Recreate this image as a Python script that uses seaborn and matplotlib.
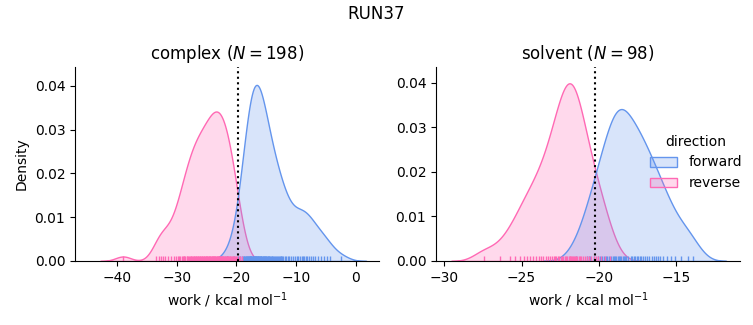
import numpy as np
import pandas as pd
import seaborn as sns
import matplotlib
matplotlib.use("Agg")
import matplotlib.pyplot as plt

run_name = "RUN37"
phases = ["complex", "solvent"]
n_labels = {"complex": 198, "solvent": 98}
bar_estimates = {"complex": -19.66, "solvent": -20.23}

complex_forward = [
    -21.5, -20.4, -19.8, -19.4, -19.1, -18.95, -18.8, -18.65, -18.55, -18.45,
    -18.35, -18.25, -18.15, -18.05, -18.0, -17.95, -17.88, -17.8, -17.72, -17.65,
    -17.58, -17.52, -17.47, -17.35, -17.28, -17.22, -17.15, -17.08, -17.02, -16.96,
    -16.9, -16.83, -16.77, -16.7, -16.63, -16.57, -16.51, -16.45, -16.38, -16.31,
    -16.24, -16.17, -16.1, -16.03, -15.95, -15.87, -15.79, -15.7, -15.62, -15.54,
    -15.45, -15.36, -15.27, -15.18, -15.09, -14.95, -14.85, -14.75, -14.65, -14.55,
    -14.45, -14.33, -14.2, -14.08, -13.95, -13.8, -13.65, -13.5, -13.35, -13.2,
    -13.05, -12.9, -12.7, -12.6, -12.5, -12.3, -12.1, -11.9, -11.65, -11.4,
    -11.15, -10.85, -10.5, -10.15, -9.9, -9.6, -9.3, -9.05, -8.85, -8.6,
    -8.35, -8.1, -7.85, -7.5, -7.15, -6.8, -6.3, -5.8, -5.3, -4.8,
    -4.3, -2.4,
]

complex_reverse = [
    -39.0,
    -33.4, -33.0, -32.7, -32.3, -31.9, -31.4, -30.9, -30.4,
    -30.1, -29.85, -29.6, -29.4, -29.2, -29.0,
    -28.85, -28.7, -28.55, -28.35, -28.2, -28.05,
    -27.93, -27.8, -27.68, -27.55, -27.42, -27.3, -27.17, -27.04,
    -26.94, -26.83, -26.72, -26.61, -26.5, -26.39, -26.28, -26.17, -26.05,
    -25.92, -25.81, -25.7, -25.59, -25.48, -25.37, -25.26, -25.15, -25.04,
    -24.95, -24.85, -24.75, -24.65, -24.55, -24.45, -24.35, -24.25, -24.15, -24.05,
    -23.96, -23.87, -23.78, -23.69, -23.6, -23.51, -23.42, -23.33, -23.24, -23.15, -23.06,
    -22.97, -22.88, -22.79, -22.7, -22.61, -22.52, -22.43, -22.34, -22.25, -22.16, -22.05,
    -21.95, -21.85, -21.75, -21.65, -21.55, -21.45, -21.35, -21.25, -21.15, -21.05,
    -20.93, -20.8, -20.65, -20.5, -20.35, -20.2, -20.05,
    -19.85, -19.6, -19.35, -19.1,
]

solvent_forward = [
    -21.5,
    -20.8, -20.65, -20.55, -20.3, -20.08,
    -19.92, -19.8, -19.68, -19.56, -19.45, -19.34, -19.23, -19.12, -19.02,
    -18.95, -18.87, -18.79, -18.71, -18.63, -18.55, -18.47, -18.39, -18.31, -18.23, -18.14,
    -17.95, -17.85, -17.75, -17.65, -17.55, -17.45, -17.35, -17.25, -17.14, -17.03,
    -16.9, -16.75, -16.6, -16.45, -16.3, -16.15, -16.02,
    -15.85, -15.6, -15.35, -15.1,
    -14.7, -14.25,
    -13.9,
]

solvent_reverse = [
    -27.45,
    -26.4,
    -25.75, -25.4, -25.1,
    -24.85, -24.65, -24.45, -24.25, -24.08,
    -23.9, -23.75, -23.6, -23.45, -23.3, -23.15, -23.03,
    -22.93, -22.84, -22.75, -22.66, -22.57, -22.48, -22.39, -22.3, -22.21, -22.12, -22.04,
    -21.96, -21.9, -21.85, -21.8, -21.72, -21.7, -21.64, -21.56, -21.48, -21.4, -21.32,
    -21.24, -21.15, -21.05,
    -20.92, -20.78, -20.64, -20.5, -20.35, -20.2, -20.05,
    -19.85, -19.6, -19.3,
]

frames = []
for phase, direction, vals in [
    ("complex", "forward", complex_forward),
    ("complex", "reverse", complex_reverse),
    ("solvent", "forward", solvent_forward),
    ("solvent", "reverse", solvent_reverse),
]:
    frames.append(pd.DataFrame({"work": vals, "phase": phase, "direction": direction}))
df = pd.concat(frames, ignore_index=True)

palette = {"forward": "cornflowerblue", "reverse": "hotpink"}

g = sns.displot(
    data=df, x="work", hue="direction", col="phase", col_order=phases,
    hue_order=["forward", "reverse"], kind="kde", fill=True, rug=True,
    palette=palette, bw_adjust=0.87,
    facet_kws=dict(sharex=False, sharey=False),
    height=3.0, aspect=1.1,
)

fig = g.figure
fig.set_size_inches(7.53, 3.25)
fig.set_dpi(100)

xlims = {"complex": (-47.06, 3.9), "solvent": (-30.53, -10.88)}
ylims = {"complex": (0, 0.0443), "solvent": (0, 0.0436)}
for ax, phase in zip(g.axes.flat, phases):
    ax.axvline(bar_estimates[phase], color="black", linestyle=":", linewidth=1.5)
    ax.set_title(f"{phase} ($N = {n_labels[phase]}$)", fontsize=12)
    ax.set_xlabel("work / kcal mol$^{-1}$")
    ax.set_xlim(*xlims[phase])
    ax.set_ylim(*ylims[phase])
g.axes.flat[0].set_ylabel("Density")
g.axes.flat[1].set_ylabel("")

fig.suptitle(run_name, fontsize=12, y=0.985)
fig.subplots_adjust(left=0.0996, right=0.9827, top=0.794, bottom=0.197, wspace=0.188)
sns.move_legend(g, loc="center left", bbox_to_anchor=(0.846, 0.5), frameon=False)

fig.savefig("out.png", dpi=100)
